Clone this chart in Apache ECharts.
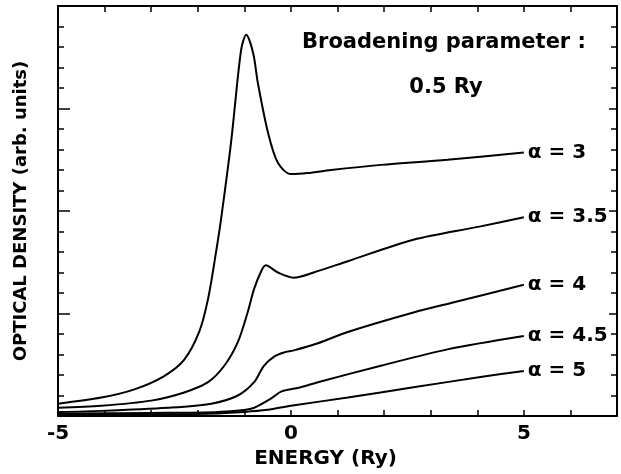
<!DOCTYPE html>
<html>
<head>
<meta charset="utf-8">
<script src="https://cdn.jsdelivr.net/npm/echarts@6/dist/echarts.min.js"></script>
<style>
  html, body { margin: 0; padding: 0; background: #fff; }
  #chart { width: 621px; height: 474px; }
</style>
</head>
<body>
<div id="chart"></div>
<script>
// curves, [energy (Ry), optical density]
var alpha3 = [[-5, 0.12], [-4.07, 0.18], [-3.36, 0.26], [-2.72, 0.39], [-2.29, 0.55], [-1.97, 0.82],
  [-1.78, 1.14], [-1.6, 1.62], [-1.5, 1.92], [-1.28, 2.69], [-1.07, 3.57], [-0.96, 3.72], [-0.81, 3.54],
  [-0.71, 3.25], [-0.49, 2.76], [-0.28, 2.47], [0, 2.36], [0.36, 2.37], [0.86, 2.40], [1.93, 2.45],
  [3.36, 2.50], [5, 2.57]];
var alpha35 = [[-5, 0.08], [-4.07, 0.10], [-3.0, 0.15], [-2.29, 0.23], [-1.78, 0.33], [-1.43, 0.49],
  [-1.14, 0.72], [-0.93, 1.01], [-0.79, 1.24], [-0.64, 1.41], [-0.54, 1.47], [-0.28, 1.40], [0.06, 1.35],
  [0.49, 1.40], [1.22, 1.51], [2.63, 1.72], [4.07, 1.85], [5, 1.94]];
var alpha4 = [[-5, 0.04], [-4.07, 0.05], [-2.64, 0.08], [-1.71, 0.12], [-1.14, 0.20], [-0.79, 0.33],
  [-0.58, 0.49], [-0.36, 0.58], [-0.15, 0.62], [0.06, 0.64], [0.58, 0.71], [1.22, 0.82], [2.63, 1.01],
  [3.5, 1.11], [5, 1.28]];
var alpha45 = [[-5, 0.025], [-3, 0.03], [-1.56, 0.04], [-0.86, 0.07], [-0.43, 0.17], [-0.2, 0.24],
  [0.21, 0.28], [0.58, 0.33], [1.93, 0.49], [3.36, 0.65], [5, 0.78]];
var alpha5 = [[-5, 0.01], [-2, 0.02], [-1, 0.04], [-0.5, 0.06], [0, 0.10], [1.22, 0.18], [2.63, 0.28],
  [4.07, 0.38], [5, 0.44]];

var curveNames = ['\u03b1 = 3', '\u03b1 = 3.5', '\u03b1 = 4', '\u03b1 = 4.5', '\u03b1 = 5'];
var curveData = [alpha3, alpha35, alpha4, alpha45, alpha5];
var xLabels = [-5, 0, 5];

var font = 'DejaVu Sans';
var myChart = echarts.init(document.getElementById('chart'));

var xCommon = {
  type: 'value', min: -5, max: 7, interval: 1,
  axisLine: { onZero: false, lineStyle: { color: '#000', width: 2 } },
  axisTick: { inside: true, length: 6, lineStyle: { color: '#000', width: 1.5 } },
  splitLine: { show: false }
};
var yCommon = {
  type: 'value', min: 0, max: 4, interval: 1,
  axisLine: { show: true, onZero: false, lineStyle: { color: '#000', width: 2 } },
  axisTick: { inside: true, length: 12, lineStyle: { color: '#000', width: 1.5 } },
  minorTick: { show: true, splitNumber: 5, length: 6, lineStyle: { color: '#000', width: 1.5 } },
  axisLabel: { show: false },
  splitLine: { show: false },
  minorSplitLine: { show: false }
};

var series = curveData.map(function (d, i) {
  return {
    name: curveNames[i],
    type: 'line',
    data: d,
    smooth: 0.3,
    showSymbol: false,
    lineStyle: { color: '#000', width: 2 },
    endLabel: {
      show: true,
      formatter: curveNames[i],
      distance: 4,
      color: '#000',
      fontFamily: font,
      fontWeight: 'bold',
      fontSize: 20
    },
    z: 3
  };
});

var option = {
  animation: false,
  grid: { left: 58, right: 4, top: 6, bottom: 57 },
  xAxis: [
    Object.assign({}, xCommon, {
      position: 'bottom',
      name: 'ENERGY (Ry)',
      nameLocation: 'middle',
      nameGap: 33,
      nameTextStyle: { color: '#000', fontFamily: font, fontWeight: 'bold', fontSize: 20, padding: [0, 24, 0, 0] },
      axisLabel: {
        margin: 8, color: '#000', fontFamily: font, fontWeight: 'bold', fontSize: 20,
        formatter: function (v) { return xLabels.indexOf(v) >= 0 ? String(v) : ''; }
      }
    }),
    Object.assign({}, xCommon, { position: 'top', axisLabel: { show: false } })
  ],
  yAxis: [
    Object.assign({}, yCommon, {
      position: 'left',
      name: 'OPTICAL DENSITY (arb. units)',
      nameLocation: 'middle',
      nameGap: 28,
      nameTextStyle: { color: '#000', fontFamily: font, fontWeight: 'bold', fontSize: 18 }
    }),
    Object.assign({}, yCommon, { position: 'right', axisTick: Object.assign({}, yCommon.axisTick, { length: 8 }) })
  ],
  graphic: [
    { type: 'text', x: 444, y: 43, style: { text: 'Broadening parameter :', fill: '#000', font: 'bold 21px ' + font, align: 'center', verticalAlign: 'middle' } },
    { type: 'text', x: 446, y: 88, style: { text: '0.5 Ry', fill: '#000', font: 'bold 21px ' + font, align: 'center', verticalAlign: 'middle' } }
  ],
  series: series
};

option && myChart.setOption(option);
</script>
</body>
</html>
